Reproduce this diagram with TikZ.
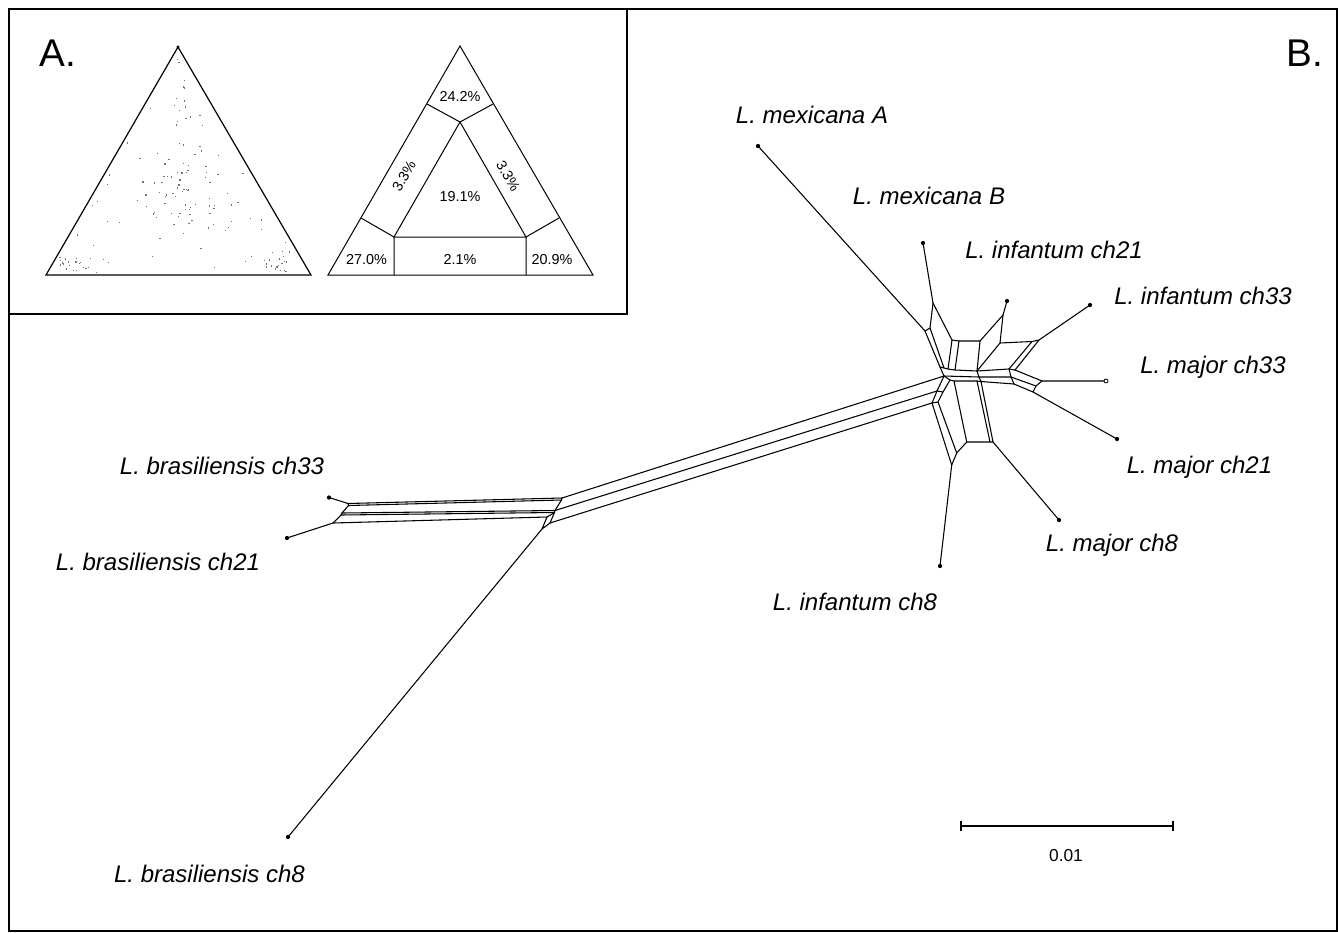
\documentclass[tikz,border=0pt]{standalone}
\usepackage{fontspec}
\setmainfont{Liberation Sans}
\begin{document}
\begin{tikzpicture}[x=0.75pt,y=-0.75pt,
  net/.style={line width=0.8pt, line join=round, line cap=round},
  frm/.style={line width=1.1pt},
  lbl/.style={font=\fontsize{18}{20}\selectfont\itshape, inner sep=0pt},
  pct/.style={font=\fontsize{10.8}{12}\selectfont, inner sep=0pt},
  big/.style={font=\fontsize{29}{32}\selectfont, inner sep=0pt},
  sdot/.style={fill=black!55}]
\useasboundingbox (0,0) rectangle (1338,932);
% frames
\draw[frm] (9,9) rectangle (1337,931);
\draw[frm] (9,314) -- (627,314) -- (627,9);
\node[big] (labA) at (58,53) {A.};
\node[big] (labB) at (1305,53) {B.};
% ---------- inset A: left triangle with scatter ----------
\coordinate (ta) at (178,47);
\coordinate (tb) at (46,275);
\coordinate (tc) at (311,275);
\draw[line width=0.9pt] (ta) -- (tb) -- (tc) -- cycle;
\fill (ta) circle (1.2pt);
\pgfmathsetseed{4242}
\foreach \i in {1,...,60}{
  \pgfmathsetmacro{\s}{sqrt(rnd)}
  \pgfmathsetmacro{\t}{rnd}
  \pgfmathsetmacro{\px}{(1-\s)*178+\s*(1-\t)*52+\s*\t*305}
  \pgfmathsetmacro{\py}{(1-\s)*54+\s*(1-\t)*272+\s*\t*272}
  \fill[sdot] (\px,\py) rectangle ++(1.3,1.3);
}
\foreach \i in {1,...,45}{
  \pgfmathsetmacro{\px}{180+50*(rnd+rnd-1)}
  \pgfmathsetmacro{\py}{198+45*(rnd+rnd-1)}
  \fill[sdot] (\px,\py) rectangle ++(1.3,1.3);
}
\foreach \i in {1,...,14}{
  \pgfmathsetmacro{\px}{174+10*rnd}
  \pgfmathsetmacro{\py}{58+140*rnd}
  \fill[sdot] (\px,\py) rectangle ++(1.3,1.3);
}
\foreach \i in {1,...,18}{
  \pgfmathsetmacro{\px}{58+32*rnd}
  \pgfmathsetmacro{\py}{256+16*rnd}
  \fill[sdot] (\px,\py) rectangle ++(1.3,1.3);
}
\foreach \i in {1,...,18}{
  \pgfmathsetmacro{\px}{262+30*rnd}
  \pgfmathsetmacro{\py}{250+21*rnd}
  \fill[sdot] (\px,\py) rectangle ++(1.3,1.3);
}
% ---------- inset A: right triangle with regions ----------
\coordinate (ua) at (460,46);
\coordinate (ub) at (328,275);
\coordinate (uc) at (593,275);
\coordinate (ia) at (460,122);
\coordinate (ib) at (394,237);
\coordinate (ic) at (526,237);
\coordinate (sl1) at (427,104);
\coordinate (sr1) at (493,104);
\coordinate (sl2) at (361,218);
\coordinate (sr2) at (559,218);
\coordinate (bb) at (394,275);
\coordinate (bc) at (526,275);
\draw[line width=0.75pt] (ua) -- (ub) -- (uc) -- cycle;
\draw[line width=0.75pt] (ia) -- (ib) -- (ic) -- cycle;
\draw[line width=0.75pt] (sl1) -- (ia) -- (sr1);
\draw[line width=0.75pt] (sl2) -- (ib) -- (bb);
\draw[line width=0.75pt] (sr2) -- (ic) -- (bc);
\node[pct] (p242) at (460,97) {24.2\%};
\node[pct] (p191) at (460,197) {19.1\%};
\node[pct] (p270) at (366.5,259.5) {27.0\%};
\node[pct] (p21) at (460,259.5) {2.1\%};
\node[pct] (p209) at (552,259.5) {20.9\%};
\node[pct, rotate=60] (p33l) at (404,176) {3.3\%};
\node[pct, rotate=-60] (p33r) at (508,176) {3.3\%};
% ---------- network: leaves ----------
\coordinate (MA) at (758,146);
\coordinate (MB) at (923,243);
\coordinate (I21) at (1007,301);
\coordinate (I33) at (1090,305);
\coordinate (M33) at (1106,381);
\coordinate (M21) at (1117,439);
\coordinate (M8) at (1059,520);
\coordinate (I8) at (940,566);
\coordinate (B33) at (329,497.5);
\coordinate (B21) at (287,538);
\coordinate (B8) at (288,837);
% left bundle
\coordinate (lt1) at (348,503.5);
\coordinate (lt1b) at (348.5,505.5);
\coordinate (lm) at (342,513);
\coordinate (lmb) at (341,515);
\coordinate (lbo) at (333,523);
\coordinate (rt1) at (562,498);
\coordinate (rt1b) at (561.5,500);
\coordinate (rm) at (555,510.5);
\coordinate (rmb) at (554.5,512.5);
\coordinate (rbo) at (547,517);
\coordinate (p3) at (550,523);
\coordinate (p4) at (542,529);
% hub
\coordinate (a1) at (925,331);
\coordinate (a2) at (930,328);
\coordinate (b1) at (933,303);
\coordinate (TL) at (952,340);
\coordinate (TM) at (959,341);
\coordinate (TR) at (980,341);
\coordinate (c1) at (940,367);
\coordinate (c1b) at (944,368);
\coordinate (v1) at (948,369);
\coordinate (v2) at (955,370);
\coordinate (v3) at (977,371);
\coordinate (d1) at (1003,315);
\coordinate (d2) at (1000,343);
\coordinate (d3b) at (1032,341.5);
\coordinate (d3) at (1039,340);
\coordinate (g1) at (1009,369);
\coordinate (g2) at (1015,370);
\coordinate (h0) at (944,376);
\coordinate (h1) at (979,377);
\coordinate (h2) at (1011,377);
\coordinate (h0b) at (950,380);
\coordinate (q) at (954,381);
\coordinate (r1) at (977,381);
\coordinate (r2) at (981,381.5);
\coordinate (k2) at (1014,384);
\coordinate (J33) at (1042,381);
\coordinate (pp) at (1036,386);
\coordinate (J21) at (1033,392);
\coordinate (m1) at (937,391);
\coordinate (m1b) at (943,392);
\coordinate (n1) at (932,403);
\coordinate (n1b) at (938,402);
\coordinate (s1) at (951.7,465);
\coordinate (s2) at (956.7,453);
\coordinate (s3) at (966.7,442);
\coordinate (s4) at (990,442);
\coordinate (s5) at (993,442);
% left bundle edges
\draw[net] (B33) -- (lt1) -- (lt1b) -- (lm) -- (lmb) -- (lbo) -- (B21);
\draw[net] (lt1) -- (rt1);
\draw[net] (lt1b) -- (rt1b);
\draw[net] (lm) -- (rm);
\draw[net] (lmb) -- (rmb);
\draw[net] (lbo) -- (rbo);
\draw[net] (rt1) -- (rt1b) -- (rm) -- (rmb) -- (p3) -- (p4) -- (rbo) -- (rmb);
\draw[net] (p4) -- (B8);
% long lines
\draw[net] (rt1) -- (h0);
\draw[net] (rm) -- (m1);
\draw[net] (p3) -- (n1);
% hub edges
\draw[net] (MA) -- (a1);
\draw[net] (MB) -- (b1) -- (a2) -- (a1);
\draw[net] (a1) -- (c1);
\draw[net] (a2) -- (c1b);
\draw[net] (b1) -- (TL) -- (TM) -- (TR);
\draw[net] (TL) -- (v1);
\draw[net] (TM) -- (v2);
\draw[net] (TR) -- (v3);
\draw[net] (c1) -- (c1b) -- (v1) -- (v2) -- (v3) -- (g1) -- (g2);
\draw[net] (I21) -- (d1) -- (TR);
\draw[net] (d1) -- (d2) -- (d3b) -- (d3) -- (I33);
\draw[net] (d2) -- (v3);
\draw[net] (d3b) -- (g1);
\draw[net] (d3) -- (g2);
\draw[net] (h0) -- (h1) -- (h2);
\draw[net] (c1) -- (h0);
\draw[net] (v3) -- (h1);
\draw[net] (g1) -- (h2);
\draw[net] (h0b) -- (q) -- (r1) -- (r2) -- (k2);
\draw[net] (h0) -- (h0b);
\draw[net] (h1) -- (r2);
\draw[net] (h2) -- (k2);
\draw[net] (g2) -- (J33) -- (M33);
\draw[net] (h2) -- (pp) -- (J33);
\draw[net] (k2) -- (J21) -- (pp);
\draw[net] (J21) -- (M21);
\draw[net] (n1) -- (m1) -- (h0);
\draw[net] (n1b) -- (m1b) -- (h0b);
\draw[net] (n1) -- (n1b);
\draw[net] (m1) -- (m1b);
\draw[net] (n1) -- (s1);
\draw[net] (n1b) -- (s2);
\draw[net] (q) -- (s3);
\draw[net] (s1) -- (s2) -- (s3) -- (s4) -- (s5);
\draw[net] (r1) -- (s4);
\draw[net] (r2) -- (s5);
\draw[net] (s5) -- (M8);
\draw[net] (s1) -- (I8);
% leaf dots
\foreach \l in {MA,MB,I21,I33,M21,M8,I8,B33,B21,B8}{\fill (\l) circle (1.6pt);}
\draw[line width=0.6pt, fill=white] (M33) circle (1.5pt);
% labels
\node[lbl] (tMA) at (812,115) {L. mexicana A};
\node[lbl] (tMB) at (929,196) {L. mexicana B};
\node[lbl] (tI21) at (1054,250) {L. infantum ch21};
\node[lbl] (tI33) at (1203,296) {L. infantum ch33};
\node[lbl] (tM33) at (1213,367) {L. major ch33};
\node[lbl] (tM21) at (1199.5,467) {L. major ch21};
\node[lbl] (tM8) at (1112,545) {L. major ch8};
\node[lbl] (tI8) at (855,602) {L. infantum ch8};
\node[lbl] (tB33) at (222,466) {L. brasiliensis ch33};
\node[lbl] (tB21) at (158,562) {L. brasiliensis ch21};
\node[lbl] (tB8) at (209.5,874) {L. brasiliensis ch8};
% scale bar
\coordinate (sb1) at (961,826);
\coordinate (sb2) at (1173,826);
\draw[line width=0.9pt] (sb1) -- (sb2);
\draw[line width=0.9pt] ([yshift=4pt]sb1) -- ([yshift=-4pt]sb1);
\draw[line width=0.9pt] ([yshift=4pt]sb2) -- ([yshift=-4pt]sb2);
\node[font=\fontsize{13}{15}\selectfont, inner sep=0pt] (sbl) at (1066,856) {0.01};
\end{tikzpicture}
\end{document}
